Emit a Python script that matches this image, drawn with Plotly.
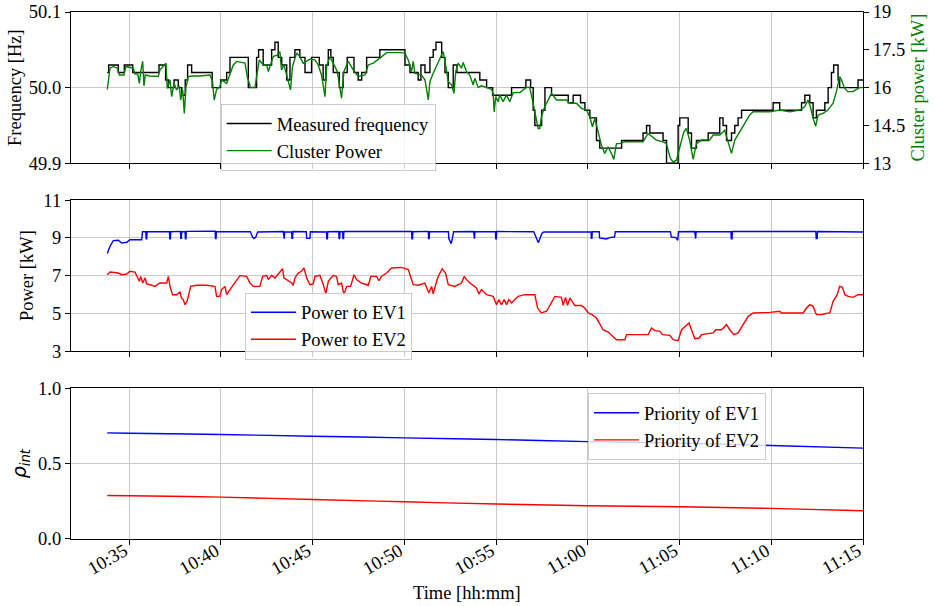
import datetime as dt
import plotly.graph_objects as go

# ---------------------------------------------------------------------------
# Measurement data (time given in minutes after 10:30:00)
# ---------------------------------------------------------------------------
freq_t = [3.80, 3.88, 4.40, 4.73, 5.19, 6.62, 6.98, 7.13, 7.44, 7.67, 7.86, 8.05,
          8.18, 8.40, 9.52, 9.98, 10.31, 10.49, 11.49, 11.94, 12.05, 12.30, 12.76,
          12.94, 13.12, 13.31, 13.58, 13.76, 14.03, 14.30, 14.58, 14.94, 15.36,
          15.57, 15.72, 15.85, 15.99, 16.12, 16.45, 16.66, 16.88, 17.25, 17.48,
          17.67, 17.94, 18.66, 20.03, 20.30, 20.75, 20.90, 21.12, 21.39, 21.57,
          21.72, 22.03, 22.21, 22.39, 22.66, 22.86, 24.11, 24.48, 24.81, 25.84,
          26.62, 26.88, 27.02, 27.11, 27.48, 27.66, 28.02, 28.93, 29.20, 29.60,
          29.84, 30.11, 30.47, 30.65, 31.84, 33.01, 33.20, 33.38, 34.10, 34.29,
          34.92, 35.01, 35.47, 35.65, 35.92, 36.56, 37.19, 37.37, 37.56, 37.83,
          38.01, 38.19, 38.38, 40.10, 40.46, 41.65, 41.83, 42.10, 42.28, 42.46,
          42.92, 43.10, 43.28, 43.40, 43.64, 43.73, 44.73, 45.00]
freq_hz = [50.02, 50.03, 50.02, 50.03, 50.02, 50.03, 50.01, 50.00, 50.01, 50.00, 49.99, 50.01,
           50.03, 50.02, 50.00, 50.01, 50.02, 50.04, 50.00, 50.04, 50.05, 50.03, 50.05,
           50.06, 50.04, 50.03, 50.01, 50.04, 50.05, 50.04, 50.02, 50.04, 50.03,
           50.01, 50.03, 50.05, 50.04, 50.02, 50.00, 50.02, 50.04, 50.02, 50.01,
           50.02, 50.04, 50.05, 50.03, 50.02, 50.01, 50.03, 50.02, 50.04, 50.05,
           50.06, 50.04, 50.02, 50.00, 50.03, 50.02, 50.01, 50.00, 49.99, 50.00,
           50.01, 50.00, 49.97, 49.95, 49.97, 50.00, 49.99, 49.98, 49.99, 49.98,
           49.97, 49.96, 49.93, 49.92, 49.93, 49.94, 49.95, 49.94, 49.93, 49.90,
           49.95, 49.96, 49.94, 49.92, 49.93, 49.94, 49.96, 49.95, 49.93, 49.94,
           49.95, 49.96, 49.97, 49.98, 49.97, 49.98, 49.99, 49.98, 49.96, 49.97,
           49.98, 50.00, 50.02, 50.03, 50.01, 50.00, 50.01, 50.01]

cluster_t = [3.80, 3.95, 4.13, 4.35, 4.46, 4.71, 4.82, 5.22, 5.31, 5.46, 5.55, 5.62,
             5.73, 5.80, 5.87, 6.13, 6.58, 6.67, 7.00, 7.07, 7.22, 7.31, 7.44, 7.58,
             7.73, 7.80, 7.91, 8.00, 8.09, 8.22, 8.40, 8.85, 9.40, 9.54, 9.63, 9.76,
             9.94, 10.03, 10.31, 10.49, 10.67, 10.85, 11.31, 11.43, 11.61, 11.85,
             11.98, 12.09, 12.30, 12.49, 12.58, 12.70, 12.85, 13.07, 13.21, 13.30,
             13.43, 13.58, 13.79, 13.90, 14.12, 14.30, 14.48, 14.85, 15.12, 15.30,
             15.48, 15.67, 15.76, 15.94, 16.12, 16.34, 16.57, 16.70, 16.94, 17.21,
             17.48, 17.85, 18.03, 18.30, 18.66, 19.03, 19.75, 20.03, 20.21, 20.39,
             20.48, 20.57, 20.93, 21.12, 21.30, 21.39, 21.57, 21.84, 22.11, 22.26,
             22.39, 22.57, 22.70, 22.80, 22.93, 23.11, 23.20, 23.38, 23.56, 23.75,
             23.84, 24.02, 24.20, 24.47, 24.75, 24.84, 24.89, 24.98, 25.11, 25.20,
             25.38, 25.56, 25.74, 25.93, 26.29, 26.65, 26.83, 26.98, 27.13, 27.29,
             27.38, 27.47, 27.65, 27.83, 28.02, 28.29, 28.83, 29.01, 29.38, 29.65,
             29.92, 30.10, 30.25, 30.38, 30.56, 30.74, 30.92, 31.10, 31.29, 31.41,
             31.56, 31.74, 32.01, 33.01, 33.28, 33.47, 33.74, 34.10, 34.28, 34.50,
             34.65, 34.83, 35.01, 35.23, 35.37, 35.55, 35.74, 35.92, 36.19, 36.64,
             36.83, 37.19, 37.46, 37.64, 37.83, 38.01, 38.28, 38.55, 38.82, 39.01,
             39.91, 40.46, 41.00, 41.55, 41.82, 42.00, 42.13, 42.28, 42.42, 42.55,
             42.82, 43.09, 43.37, 43.55, 43.73, 43.82, 44.00, 44.18, 44.46, 44.64,
             44.82, 45.00]
cluster_kw = [15.93, 16.77, 16.84, 16.77, 16.50, 16.50, 16.84, 16.77, 16.54, 16.54, 16.17, 16.64,
              17.04, 16.07, 16.50, 16.46, 16.44, 16.70, 16.97, 15.97, 16.31, 15.64, 16.17, 15.91,
              16.07, 15.51, 15.91, 14.98, 16.01, 16.44, 16.46, 16.46, 16.50, 16.24, 15.51, 15.93,
              16.04, 16.31, 16.17, 16.50, 16.90, 17.04, 16.97, 16.44, 16.01, 16.01,
              16.70, 17.10, 16.90, 16.90, 16.64, 16.90, 17.23, 17.30, 17.43, 16.70,
              16.90, 16.50, 15.91, 16.84, 17.37, 17.23, 16.97, 17.13, 17.10, 16.90,
              16.50, 15.64, 16.84, 17.23, 16.97, 16.64, 15.58, 16.64, 17.04, 16.70,
              16.44, 16.50, 16.90, 16.97, 17.17, 17.39, 17.39, 17.37, 17.10, 16.64,
              17.04, 16.57, 16.50, 16.31, 15.51, 16.24, 16.57, 16.97, 17.43, 16.84,
              16.24, 16.11, 15.77, 16.64, 16.97, 16.77, 17.00, 16.64, 16.50, 16.11,
              16.37, 16.01, 16.07, 16.01, 15.93, 15.77, 15.04, 15.64, 15.44, 15.71,
              15.44, 15.71, 15.44, 15.80, 15.80, 16.01, 16.01, 15.51, 14.98, 14.38,
              14.38, 14.85, 15.24, 15.51, 15.77, 15.51, 15.51, 15.38, 15.38, 15.18,
              15.11, 14.85, 14.45, 14.78, 14.18, 13.72, 13.39, 13.65, 13.39, 13.15,
              13.78, 13.78, 13.85, 13.85, 14.18, 14.08, 13.92, 13.85, 13.78, 13.19,
              13.05, 13.12, 13.65, 14.25, 14.38, 13.92, 13.15, 13.78, 13.92, 13.92,
              14.12, 14.12, 14.31, 13.85, 13.39, 13.92, 14.25, 14.58, 14.91, 15.04,
              15.04, 15.11, 15.04, 15.11, 15.24, 15.51, 15.24, 14.78, 14.47, 14.91,
              14.98, 15.11, 15.38, 15.84, 16.44, 16.31, 15.97, 15.84, 15.84, 15.93,
              16.00, 16.00]

ev1_t = [3.80, 3.95, 4.13, 4.40, 4.59, 4.86, 5.04, 5.68, 5.72, 5.90, 5.92, 5.95, 5.97,
         7.19, 7.21, 7.24, 7.26, 7.79, 7.81, 7.84, 7.86, 8.04, 8.06, 8.09, 8.11,
         9.68, 9.70, 9.73, 9.75, 11.60, 11.72, 11.80, 11.90, 12.00, 13.40, 13.42,
         13.45, 13.47, 13.85, 13.87, 13.90, 13.92, 14.65, 14.67, 14.85, 14.87,
         15.75, 15.77, 15.80, 15.82, 16.42, 16.44, 16.47, 16.49, 16.63, 16.65,
         16.68, 16.70, 20.39, 20.41, 20.44, 20.46, 21.30, 21.32, 21.35, 21.37,
         22.40, 22.42, 22.55, 22.62, 22.68, 23.77, 23.79, 23.82, 23.84, 24.96,
         24.98, 25.01, 25.03, 27.05, 27.30, 27.50, 27.60, 30.17, 30.19, 30.22,
         30.24, 30.62, 30.64, 31.00, 31.20, 31.45, 31.50, 34.50, 34.55, 34.80,
         34.90, 34.94, 35.82, 35.84, 35.88, 35.90, 37.80, 37.82, 37.86, 37.88,
         42.43, 42.45, 42.50, 42.52, 45.00]
ev1_kw = [8.17, 8.56, 8.86, 8.88, 8.73, 8.77, 8.91, 8.91, 9.33, 9.33, 8.95, 8.95, 9.33,
          9.33, 8.95, 8.95, 9.33, 9.35, 8.98, 8.98, 9.33, 9.33, 8.96, 8.96, 9.35,
          9.36, 8.97, 8.97, 9.34, 9.33, 9.05, 8.97, 9.05, 9.32, 9.34, 8.96,
          8.96, 9.33, 9.32, 8.98, 8.98, 9.34, 9.33, 8.98, 8.98, 9.33,
          9.32, 8.96, 8.96, 9.33, 9.34, 8.97, 8.97, 9.33, 9.33, 8.97,
          8.97, 9.35, 9.34, 8.96, 8.96, 9.33, 9.35, 8.97, 8.97, 9.33,
          9.33, 8.97, 8.70, 9.00, 9.33, 9.34, 8.96, 8.96, 9.33, 9.33,
          8.96, 8.96, 9.34, 9.33, 8.75, 9.25, 9.32, 9.33, 8.98, 8.98,
          9.33, 9.33, 9.00, 8.95, 9.02, 9.05, 9.33, 9.33, 9.05, 9.02,
          8.88, 9.33, 9.34, 8.97, 8.97, 9.33, 9.33, 8.96, 8.96, 9.35,
          9.34, 8.97, 8.97, 9.34, 9.32]

ev2_t = [3.80, 3.95, 4.40, 4.58, 4.86, 5.04, 5.31, 5.44, 5.55, 5.62, 5.73, 5.86, 5.95,
         6.13, 6.40, 6.67, 7.04, 7.13, 7.22, 7.36, 7.58, 7.76, 7.85, 7.94, 8.04,
         8.16, 8.35, 8.67, 9.22, 9.67, 9.76, 9.94, 10.03, 10.22, 10.31, 10.49,
         10.67, 10.85, 11.03, 11.40, 11.58, 11.76, 12.12, 12.27, 12.49, 12.58,
         12.76, 12.94, 13.21, 13.36, 13.43, 13.58, 13.85, 13.94, 14.03, 14.21,
         14.39, 14.52, 14.67, 14.85, 15.03, 15.12, 15.39, 15.58, 15.72, 15.85,
         16.12, 16.30, 16.39, 16.57, 16.70, 16.85, 17.07, 17.25, 17.39, 17.66,
         18.03, 18.17, 18.48, 18.61, 18.75, 19.03, 19.30, 19.84, 20.21, 20.48,
         20.75, 21.11, 21.33, 21.48, 21.57, 21.70, 21.84, 22.06, 22.24, 22.39,
         22.75, 23.11, 23.26, 23.39, 23.57, 23.93, 24.06, 24.20, 24.48, 24.84,
         25.02, 25.15, 25.29, 25.44, 25.57, 25.69, 25.84, 26.02, 26.20, 26.56,
         27.11, 27.26, 27.47, 27.75, 27.93, 28.20, 28.56, 28.65, 28.78, 28.89,
         29.02, 29.29, 29.65, 29.83, 30.02, 30.23, 30.47, 30.65, 30.83, 31.11,
         31.38, 31.56, 32.02, 32.11, 33.29, 33.47, 33.65, 33.93, 34.07, 34.47,
         34.65, 34.92, 35.11, 35.34, 35.52, 35.65, 35.83, 36.07, 36.20, 36.83,
         36.98, 37.29, 37.56, 37.74, 37.96, 38.19, 38.47, 38.74, 39.01, 39.92,
         40.46, 40.56, 41.74, 41.92, 42.10, 42.28, 42.46, 42.74, 42.92, 43.19,
         43.37, 43.59, 43.73, 43.88, 44.01, 44.19, 44.46, 44.73, 45.00]
ev2_kw = [7.05, 7.19, 7.14, 7.05, 7.09, 7.23, 7.19, 6.96, 6.70, 6.96, 6.61, 6.88, 6.56,
          6.52, 6.43, 6.61, 6.61, 6.96, 6.43, 5.99, 5.99, 6.13, 5.81, 5.73, 5.46,
          5.67, 6.43, 6.49, 6.49, 6.43, 5.90, 5.90, 6.26, 6.43, 5.99, 6.26,
          6.52, 6.79, 7.00, 6.96, 6.61, 6.43, 6.43, 6.96, 7.02, 6.79,
          7.02, 6.88, 7.23, 7.37, 6.88, 6.79, 6.61, 6.49, 6.88, 7.14,
          7.23, 7.41, 6.88, 6.52, 6.56, 6.96, 7.02, 6.52, 6.03, 6.70,
          7.02, 6.96, 6.52, 6.61, 5.99, 6.43, 6.43, 7.05, 6.79, 6.61,
          6.49, 6.96, 6.96, 6.73, 6.96, 7.14, 7.41, 7.44, 7.32, 6.52,
          6.49, 6.61, 6.08, 6.43, 6.03, 6.52, 6.96, 7.37, 7.14, 6.52,
          6.43, 6.61, 6.96, 6.79, 6.61, 6.35, 6.03, 6.26, 5.99, 5.90,
          5.46, 5.73, 5.46, 5.73, 5.46, 5.73, 5.55, 5.73, 5.90, 5.99,
          5.99, 5.28, 5.02, 5.11, 5.46, 5.90, 5.85, 5.42, 5.85, 5.42,
          5.81, 5.42, 5.42, 5.28, 5.02, 4.93, 4.75, 4.40, 4.13, 4.01,
          3.78, 3.60, 3.60, 3.87, 3.87, 4.22, 4.08, 4.04, 3.87, 3.83,
          3.60, 3.55, 4.13, 4.31, 4.49, 4.13, 3.65, 3.69, 3.87, 3.96,
          4.13, 4.13, 4.40, 4.13, 3.87, 3.96, 4.40, 4.84, 5.02, 5.05,
          5.11, 5.02, 5.02, 5.28, 5.46, 5.37, 4.93, 4.93, 4.98, 5.02,
          5.64, 5.99, 6.43, 6.38, 5.99, 5.90, 5.85, 5.99, 5.99]

prio_t = [3.80, 5.0, 10.0, 15.0, 20.0, 25.0, 30.0, 35.0, 40.0, 45.0]
prio_ev1 = [0.704, 0.702, 0.693, 0.682, 0.671, 0.660, 0.646, 0.636, 0.620, 0.603]
prio_ev2 = [0.289, 0.287, 0.278, 0.262, 0.247, 0.232, 0.221, 0.214, 0.203, 0.187]

tick_minutes = [5, 10, 15, 20, 25, 30, 35, 40, 45]
tick_labels = ["10:35", "10:40", "10:45", "10:50", "10:55", "11:00", "11:05", "11:10", "11:15"]

day = dt.datetime(2021, 6, 1, 10, 30)


def clock(minutes):
    return [day + dt.timedelta(minutes=m) for m in minutes]


x_range = [day + dt.timedelta(minutes=1.823), day + dt.timedelta(minutes=45)]

FONT = "Liberation Serif"
FS = 18.5
GRID = "#c9c9c9"

fig = go.Figure()

fig.add_trace(go.Scatter(x=clock(freq_t), y=freq_hz, mode="lines", line_shape="hv",
                         line=dict(color="black", width=1.4), name="Measured frequency",
                         xaxis="x3", yaxis="y5", legend="legend"))
fig.add_trace(go.Scatter(x=clock(cluster_t), y=cluster_kw, mode="lines",
                         line=dict(color="#008000", width=1.4), name="Cluster Power",
                         xaxis="x3", yaxis="y6", legend="legend"))

fig.add_trace(go.Scatter(x=clock(ev1_t), y=ev1_kw, mode="lines",
                         line=dict(color="#0000ff", width=1.4), name="Power to EV1",
                         xaxis="x2", yaxis="y3", legend="legend2"))
fig.add_trace(go.Scatter(x=clock(ev2_t), y=ev2_kw, mode="lines",
                         line=dict(color="#ff0000", width=1.4), name="Power to EV2",
                         xaxis="x2", yaxis="y3", legend="legend2"))

fig.add_trace(go.Scatter(x=clock(prio_t), y=prio_ev1, mode="lines", line_shape="spline",
                         line=dict(color="#0000ff", width=1.4), name="Priority of EV1",
                         xaxis="x", yaxis="y", legend="legend3"))
fig.add_trace(go.Scatter(x=clock(prio_t), y=prio_ev2, mode="lines", line_shape="spline",
                         line=dict(color="#ff0000", width=1.4), name="Priority of EV2",
                         xaxis="x", yaxis="y", legend="legend3"))

tick_pos = clock(tick_minutes)


def xaxis(anchor, show_labels):
    axis = dict(
        domain=[0, 1], anchor=anchor, range=x_range, type="date",
        tickvals=tick_pos, showticklabels=show_labels, tickangle=-30,
        showgrid=True, gridcolor=GRID, gridwidth=1.2,
        ticks="outside", ticklen=5, tickcolor="black",
        showline=True, linecolor="black", linewidth=1.2, mirror=True,
        zeroline=False, automargin=False,
        tickfont=dict(family=FONT, size=FS, color="black"),
    )
    if show_labels:
        axis["ticktext"] = tick_labels
        axis["ticklabelstandoff"] = -12
        axis["ticklabelshift"] = -5
    return axis


def yaxis(anchor, domain, rng, vals, texts, title, standoff, title_font=None):
    return dict(
        domain=domain, anchor=anchor, range=rng,
        tickvals=vals, ticktext=texts,
        showgrid=True, gridcolor=GRID, gridwidth=1.2,
        ticks="outside", ticklen=5, tickcolor="black",
        showline=True, linecolor="black", linewidth=1.2, mirror=True,
        zeroline=False, automargin=False,
        tickfont=dict(family=FONT, size=FS, color="black"),
        title=dict(text=title, standoff=standoff,
                   font=title_font or dict(family=FONT, size=FS, color="black")),
    )


legend_style = dict(bgcolor="rgba(255,255,255,0.8)", bordercolor="#cccccc", borderwidth=1,
                    font=dict(family=FONT, size=FS, color="black"),
                    xanchor="left", yanchor="top", tracegroupgap=0, itemwidth=45)

fig.update_layout(
    width=935, height=606,
    margin=dict(l=71, r=72, t=12, b=67),
    paper_bgcolor="white", plot_bgcolor="white",
    font=dict(family=FONT, size=FS, color="black"),
    xaxis=xaxis("y", True),
    xaxis2=xaxis("y3", False),
    xaxis3=xaxis("y5", False),
    yaxis=yaxis("x", [0, 0.286], [0, 1], [0, 0.5, 1.0], ["0.0", "0.5", "1.0"],
                "<i>ρ</i><sub><i>int</i></sub>", 6,
                dict(family="DejaVu Sans", size=19, color="black")),
    yaxis3=yaxis("x2", [0.3567, 0.6427], [3, 11], [3, 5, 7, 9, 11],
                 ["3", "5", "7", "9", "11"], "Power [kW]", 4),
    yaxis5=yaxis("x3", [0.713, 1.0], [49.9, 50.1], [49.9, 50.0, 50.1],
                 ["49.9", "50.0", "50.1"], "Frequency [Hz]", 2),
    yaxis6=dict(
        domain=[0.713, 1.0], anchor="x3", overlaying="y5", side="right",
        range=[13, 19], tickvals=[13, 14.5, 16, 17.5, 19],
        ticktext=["13", "14.5", "16", "17.5", "19"], showgrid=False,
        ticks="outside", ticklen=5, tickcolor="black",
        showline=True, linecolor="black", linewidth=1.2, zeroline=False,
        automargin=False,
        tickfont=dict(family=FONT, size=FS, color="black"),
        title=dict(text="Cluster power [kW]", standoff=6,
                   font=dict(family=FONT, size=FS, color="#008000")),
    ),
    legend=dict(x=0.189, y=0.8254, **legend_style),
    legend2=dict(x=0.2197, y=0.4674, **legend_style),
    legend3=dict(x=0.6528, y=0.2765, **legend_style),
    showlegend=True,
)

fig.add_annotation(text="Time [hh:mm]", xref="paper", yref="paper", x=0.5, y=-0.1025,
                   yanchor="middle", showarrow=False,
                   font=dict(family=FONT, size=FS, color="black"))

fig.write_html("out.html")
